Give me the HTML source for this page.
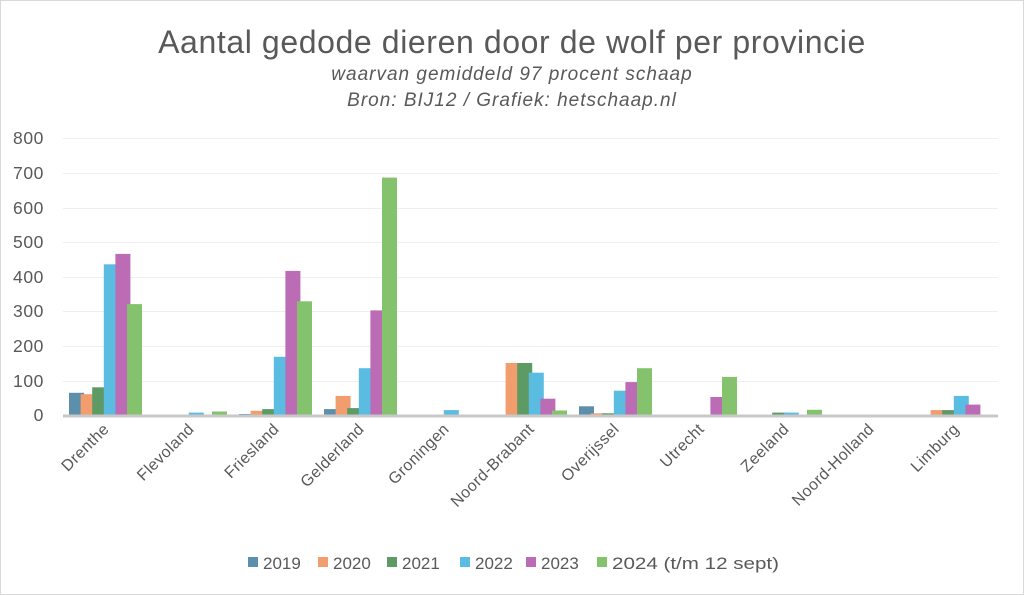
<!DOCTYPE html>
<html><head><meta charset="utf-8"><style>
body{margin:0;background:#fff;}
svg{display:block;font-family:"Liberation Sans",sans-serif;}
</style></head><body>
<svg id="s" width="1024" height="595" viewBox="0 0 1024 595">
<rect x="0.5" y="0.5" width="1023" height="594" fill="#fff" stroke="#d9d9d9"/>
<text x="512" y="53" text-anchor="middle" font-size="32" letter-spacing="0.6" fill="#595959">Aantal gedode dieren door de wolf per provincie</text>
<text x="512" y="80" text-anchor="middle" font-size="19" letter-spacing="1" font-style="italic" fill="#595959">waarvan gemiddeld 97 procent schaap</text>
<text x="512" y="106" text-anchor="middle" font-size="19" letter-spacing="1" font-style="italic" fill="#595959">Bron: BIJ12 / Grafiek: hetschaap.nl</text>
<g stroke="#efefef" stroke-width="1">
<line x1="63" x2="998" y1="138.5" y2="138.5"/><line x1="63" x2="998" y1="173.5" y2="173.5"/>
<line x1="63" x2="998" y1="208.5" y2="208.5"/><line x1="63" x2="998" y1="242.5" y2="242.5"/>
<line x1="63" x2="998" y1="277.5" y2="277.5"/><line x1="63" x2="998" y1="311.5" y2="311.5"/>
<line x1="63" x2="998" y1="346.5" y2="346.5"/><line x1="63" x2="998" y1="381.5" y2="381.5"/>
</g>
<g font-size="17.5" letter-spacing="0.6" fill="#595959" text-anchor="end">
<text x="44" y="144">800</text><text x="44" y="179">700</text><text x="44" y="214">600</text>
<text x="44" y="248">500</text><text x="44" y="283">400</text><text x="44" y="317">300</text>
<text x="44" y="352">200</text><text x="44" y="387">100</text><text x="44" y="421">0</text>
</g>
<g id="bars"></g>
<line x1="63" x2="998" y1="416" y2="416" stroke="#c8c8c8" stroke-width="3"/>
<g font-size="16" letter-spacing="0.4" fill="#595959" text-anchor="end">
<text transform="translate(110,430) rotate(-45)">Drenthe</text>
<text transform="translate(195,430) rotate(-45)">Flevoland</text>
<text transform="translate(280,430) rotate(-45)">Friesland</text>
<text transform="translate(365,430) rotate(-45)">Gelderland</text>
<text transform="translate(450,430) rotate(-45)">Groningen</text>
<text transform="translate(535,430) rotate(-45)">Noord-Brabant</text>
<text transform="translate(620,430) rotate(-45)">Overijssel</text>
<text transform="translate(705,430) rotate(-45)">Utrecht</text>
<text transform="translate(790,430) rotate(-45)">Zeeland</text>
<text transform="translate(875,430) rotate(-45)">Noord-Holland</text>
<text transform="translate(960,430) rotate(-45)">Limburg</text>
</g>
<g font-size="17" fill="#595959">
<rect x="248" y="557" width="10" height="10" fill="#5b8fab"/><text x="263" y="569">2019</text>
<rect x="318" y="557" width="10" height="10" fill="#f19d6e"/><text x="333" y="569">2020</text>
<rect x="387" y="557" width="10" height="10" fill="#5e9a64"/><text x="402" y="569">2021</text>
<rect x="460" y="557" width="10" height="10" fill="#5bbce2"/><text x="475" y="569">2022</text>
<rect x="526" y="557" width="10" height="10" fill="#bc6bb5"/><text x="541" y="569">2023</text>
<rect x="597" y="557" width="10" height="10" fill="#85c26e"/><text x="612" y="569" textLength="167" lengthAdjust="spacingAndGlyphs">2024 (t/m 12 sept)</text>
</g>
</svg>
<script>
var d=[[64,60,80,435,465,320],[0,0,0,7,0,10],[3,12,17,168,416,328],[17,55,20,135,302,685],[0,0,0,14,0,0],[0,150,150,122,47,13],[25,5,5,70,95,135],[0,0,0,0,52,110],[0,0,7,7,0,15],[0,0,0,0,0,0],[0,14,14,55,30,0]];
var c=["#5b8fab","#f19d6e","#5e9a64","#5bbce2","#bc6bb5","#85c26e"];
var g=document.getElementById("bars"),h="";
d.forEach(function(r,i){r.forEach(function(v,j){if(!v)return;var x=69+85*i+11.6*j,hh=v*0.3465;h+='<rect x="'+x.toFixed(1)+'" y="'+(415-hh).toFixed(1)+'" width="15" height="'+hh.toFixed(1)+'" fill="'+c[j]+'"/>';});});
g.innerHTML=h;
</script>
</body></html>
